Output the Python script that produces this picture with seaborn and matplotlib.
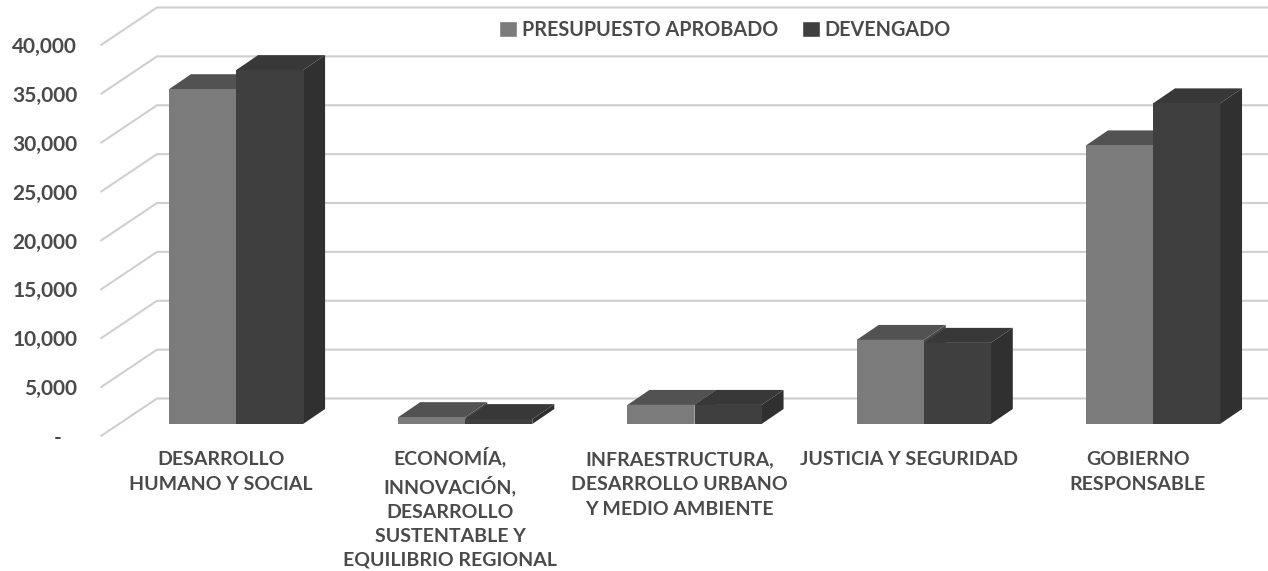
import matplotlib
matplotlib.use("Agg")
import matplotlib.pyplot as plt
import pandas as pd
import seaborn as sns
from matplotlib.lines import Line2D
from matplotlib.patches import Polygon, Patch
from matplotlib.transforms import IdentityTransform, ScaledTranslation

categories = ["DESARROLLO\nHUMANO Y SOCIAL",
              "ECONOMÍA,\nINNOVACIÓN,\nDESARROLLO\nSUSTENTABLE Y\nEQUILIBRIO REGIONAL",
              "INFRAESTRUCTURA,\nDESARROLLO URBANO\nY MEDIO AMBIENTE",
              "JUSTICIA Y SEGURIDAD",
              "GOBIERNO\nRESPONSABLE"]
aprobado = [34250, 700, 1950, 8600, 28500]
devengado = [36200, 500, 1950, 8300, 32800]
series_names = ["PRESUPUESTO APROBADO", "DEVENGADO"]
y_ticks = [0, 5000, 10000, 15000, 20000, 25000, 30000, 35000, 40000]

front_colors = ["#7b7b7b", "#3f3f3f"]
top_colors = ["#525252", "#383838"]
side_colors = ["#4a4a4a", "#303030"]
text_color = "#4a4a4a"
grid_color = "#cfcfcf"

W, H, DPI = 1268, 571, 100
sns.set_theme(style="white")
plt.rcParams["font.family"] = ["Lato", "DejaVu Sans"]

df = pd.DataFrame({
    "categoria": categories * 2,
    "serie": [series_names[0]] * 5 + [series_names[1]] * 5,
    "valor": aprobado + devengado,
})

fig = plt.figure(figsize=(W / DPI, H / DPI), dpi=DPI)
ax = fig.add_axes([106.4 / W, (H - 436) / H, 1146.2 / W, 391 / H])
sns.barplot(data=df, x="categoria", y="valor", hue="serie", order=categories,
            hue_order=series_names, palette=front_colors, width=0.585,
            saturation=1, legend=False, ax=ax, linewidth=0, errorbar=None)
ax.set_xlim(-0.5, 4.5)
ax.set_ylim(0, 40000)
ax.set_xlabel("")
ax.set_ylabel("")
sns.despine(ax=ax, left=True, bottom=True, top=True, right=True)
ax.patch.set_alpha(0)

ax.set_yticks(y_ticks)
ax.set_yticklabels(["-   " if v == 0 else f"{v:,.0f}" for v in y_ticks],
                   fontsize=15, color=text_color, fontweight="bold")
ax.tick_params(axis="y", length=0, pad=21)
ax.tick_params(axis="x", length=0, pad=11)
for lab in ax.get_xticklabels():
    lab.set_fontsize(14)
    lab.set_color(text_color)
    lab.set_fontweight("bold")
    lab.set_linespacing(1.56)
    lab.set_verticalalignment("top")
# The accented first line of the long label pushes it down: lift it to fit
long_label = ax.get_xticklabels()[1]
long_label.set_linespacing(1.5)
long_label.set_transform(long_label.get_transform()
                         + ScaledTranslation(0, 5 / DPI, fig.dpi_scale_trans))

# Walls of the 3D frame: pixel offsets of the perspective
fig.canvas.draw()
identity = IdentityTransform()
for v in y_ticks:
    y = ax.transData.transform((0, v))[1]
    ax.add_line(Line2D([101, 157, W], [y, y + 37.5, y + 37.5], color=grid_color,
                       lw=1.5, transform=identity, clip_on=False, zorder=1))

# Bars sit inside the depth of the floor; extrude each with top and side faces
bar_shift = ScaledTranslation(15 / DPI, 12 / DPI, fig.dpi_scale_trans)
depth_x, depth_y = 22, 15
for k, container in enumerate(ax.containers):
    for rect in container:
        rect.set_transform(ax.transData + bar_shift)
        rect.set_zorder(3 + k * 2 + 0.5)
        x0, y0 = ax.transData.transform((rect.get_x(), 0))
        x1, y1 = ax.transData.transform((rect.get_x() + rect.get_width(), rect.get_height()))
        x0 += 15; x1 += 15; y0 += 12; y1 += 12
        top = [(x0, y1), (x1, y1), (x1 + depth_x, y1 + depth_y), (x0 + depth_x, y1 + depth_y)]
        side = [(x1, y0), (x1 + depth_x, y0 + depth_y), (x1 + depth_x, y1 + depth_y), (x1, y1)]
        ax.add_patch(Polygon(side, closed=True, facecolor=side_colors[k], lw=0,
                             transform=identity, clip_on=False, zorder=3 + k * 2))
        ax.add_patch(Polygon(top, closed=True, facecolor=top_colors[k], lw=0,
                             transform=identity, clip_on=False, zorder=3 + k * 2))
        rect.set_clip_on(False)

handles = [Patch(facecolor=c, label=n) for c, n in zip(front_colors, series_names)]
leg = fig.legend(handles=handles, ncol=2, frameon=False, loc="center",
                 bbox_to_anchor=(725 / W, (H - 30) / H), fontsize=14.2,
                 handlelength=0.9, handleheight=0.9, handletextpad=0.25,
                 columnspacing=1.2, labelcolor=text_color)
for t in leg.get_texts():
    t.set_fontweight("bold")

fig.savefig("out.png", dpi=DPI, facecolor="white")
